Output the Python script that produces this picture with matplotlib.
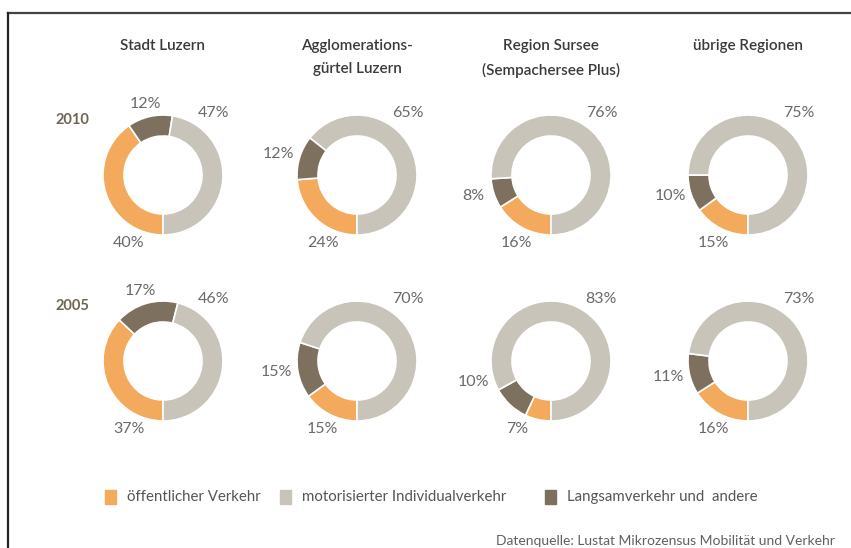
import matplotlib.pyplot as plt
import numpy as np
from matplotlib.lines import Line2D
from matplotlib.patches import Rectangle

plt.rcParams['font.family'] = ['Lato', 'DejaVu Sans']

# data (percent shares)
regions = ["Stadt Luzern", "Agglomerations-\ngürtel Luzern",
           "Region Sursee\n(Sempachersee Plus)", "übrige Regionen"]
years = ["2010", "2005"]
oev = {"2010": [40, 24, 16, 15], "2005": [37, 15, 7, 16]}
langsam = {"2010": [12, 12, 8, 10], "2005": [17, 15, 10, 11]}
miv = {"2010": [47, 65, 76, 75], "2005": [46, 70, 83, 73]}

legend_labels = ["öffentlicher Verkehr", "motorisierter Individualverkehr",
                 "Langsamverkehr und  andere"]
c_oev = "#f3aa5c"
c_miv = "#c8c4ba"
c_lang = "#7d705f"
txt = "#6a6a6a"

W, H = 851, 548
fig = plt.figure(figsize=(W / 100, H / 100), dpi=100)

# frame lines top / left
fig.add_artist(Line2D([8 / W, 1], [1 - 13 / H, 1 - 13 / H], color="#444444", lw=1.6))
fig.add_artist(Line2D([8 / W, 8 / W], [0, 1 - 13 / H], color="#222222", lw=1.6))

col_x = [163, 357, 551, 748]
row_y = [175, 361]
R = 60.0
lim = 1.6
size = 2 * R * lim

for r, yr in enumerate(years):
    for c in range(4):
        cx, cy = col_x[c], row_y[r]
        ax = fig.add_axes([(cx - size / 2) / W, 1 - (cy + size / 2) / H, size / W, size / H])
        vals = [oev[yr][c], langsam[yr][c], miv[yr][c]]
        ax.pie(vals, colors=[c_oev, c_lang, c_miv], startangle=270, counterclock=False,
               radius=1, wedgeprops=dict(width=0.35, edgecolor="white", linewidth=1.2))
        ax.set_xlim(-lim, lim)
        ax.set_ylim(-lim, lim)
        ax.set_aspect("equal")
        ax.axis("off")
        # labels
        tot = sum(vals)
        a0 = 270 - 360 * vals[0] / tot
        a1 = a0 - 360 * vals[1] / tot
        amid = np.radians(min((a0 + a1) / 2, 197))
        ax.text(-0.57, -1.14, f"{vals[0]}%", ha="center", va="center", fontsize=11.5, color=txt)
        ax.text(1.36 * np.cos(amid), 1.22 * np.sin(amid), f"{vals[1]}%",
                ha="center", va="center", fontsize=11.5, color=txt)
        ax.text(0.84, 1.03, f"{vals[2]}%", ha="center", va="center", fontsize=11.5, color=txt)

# column titles
for c, name in enumerate(regions):
    fig.text(col_x[c] / W, 1 - 39 / H, name, ha="center", va="top", fontsize=11,
             fontweight="semibold", color="#3a3a3a", linespacing=1.8)

# row labels
for r, yr in enumerate(years):
    fig.text(72 / W, 1 - (row_y[r] - 55) / H, yr, ha="center", va="center",
             fontsize=10.5, fontweight="bold", color="#6e6453")

# legend
leg_x = [105, 280, 545]
for i, (lab, col) in enumerate(zip(legend_labels, [c_oev, c_miv, c_lang])):
    fig.add_artist(Rectangle((leg_x[i] / W, 1 - 504 / H), 11 / W, 14 / H,
                             transform=fig.transFigure, color=col))
    fig.text((leg_x[i] + 22) / W, 1 - 497 / H, lab, ha="left", va="center",
             fontsize=10.8, color="#555555")

fig.text(835 / W, 1 - 541 / H, "Datenquelle: Lustat Mikrozensus Mobilität und Verkehr",
         ha="right", va="center", fontsize=10, color="#606060")

fig.savefig("out.png", dpi=100)
